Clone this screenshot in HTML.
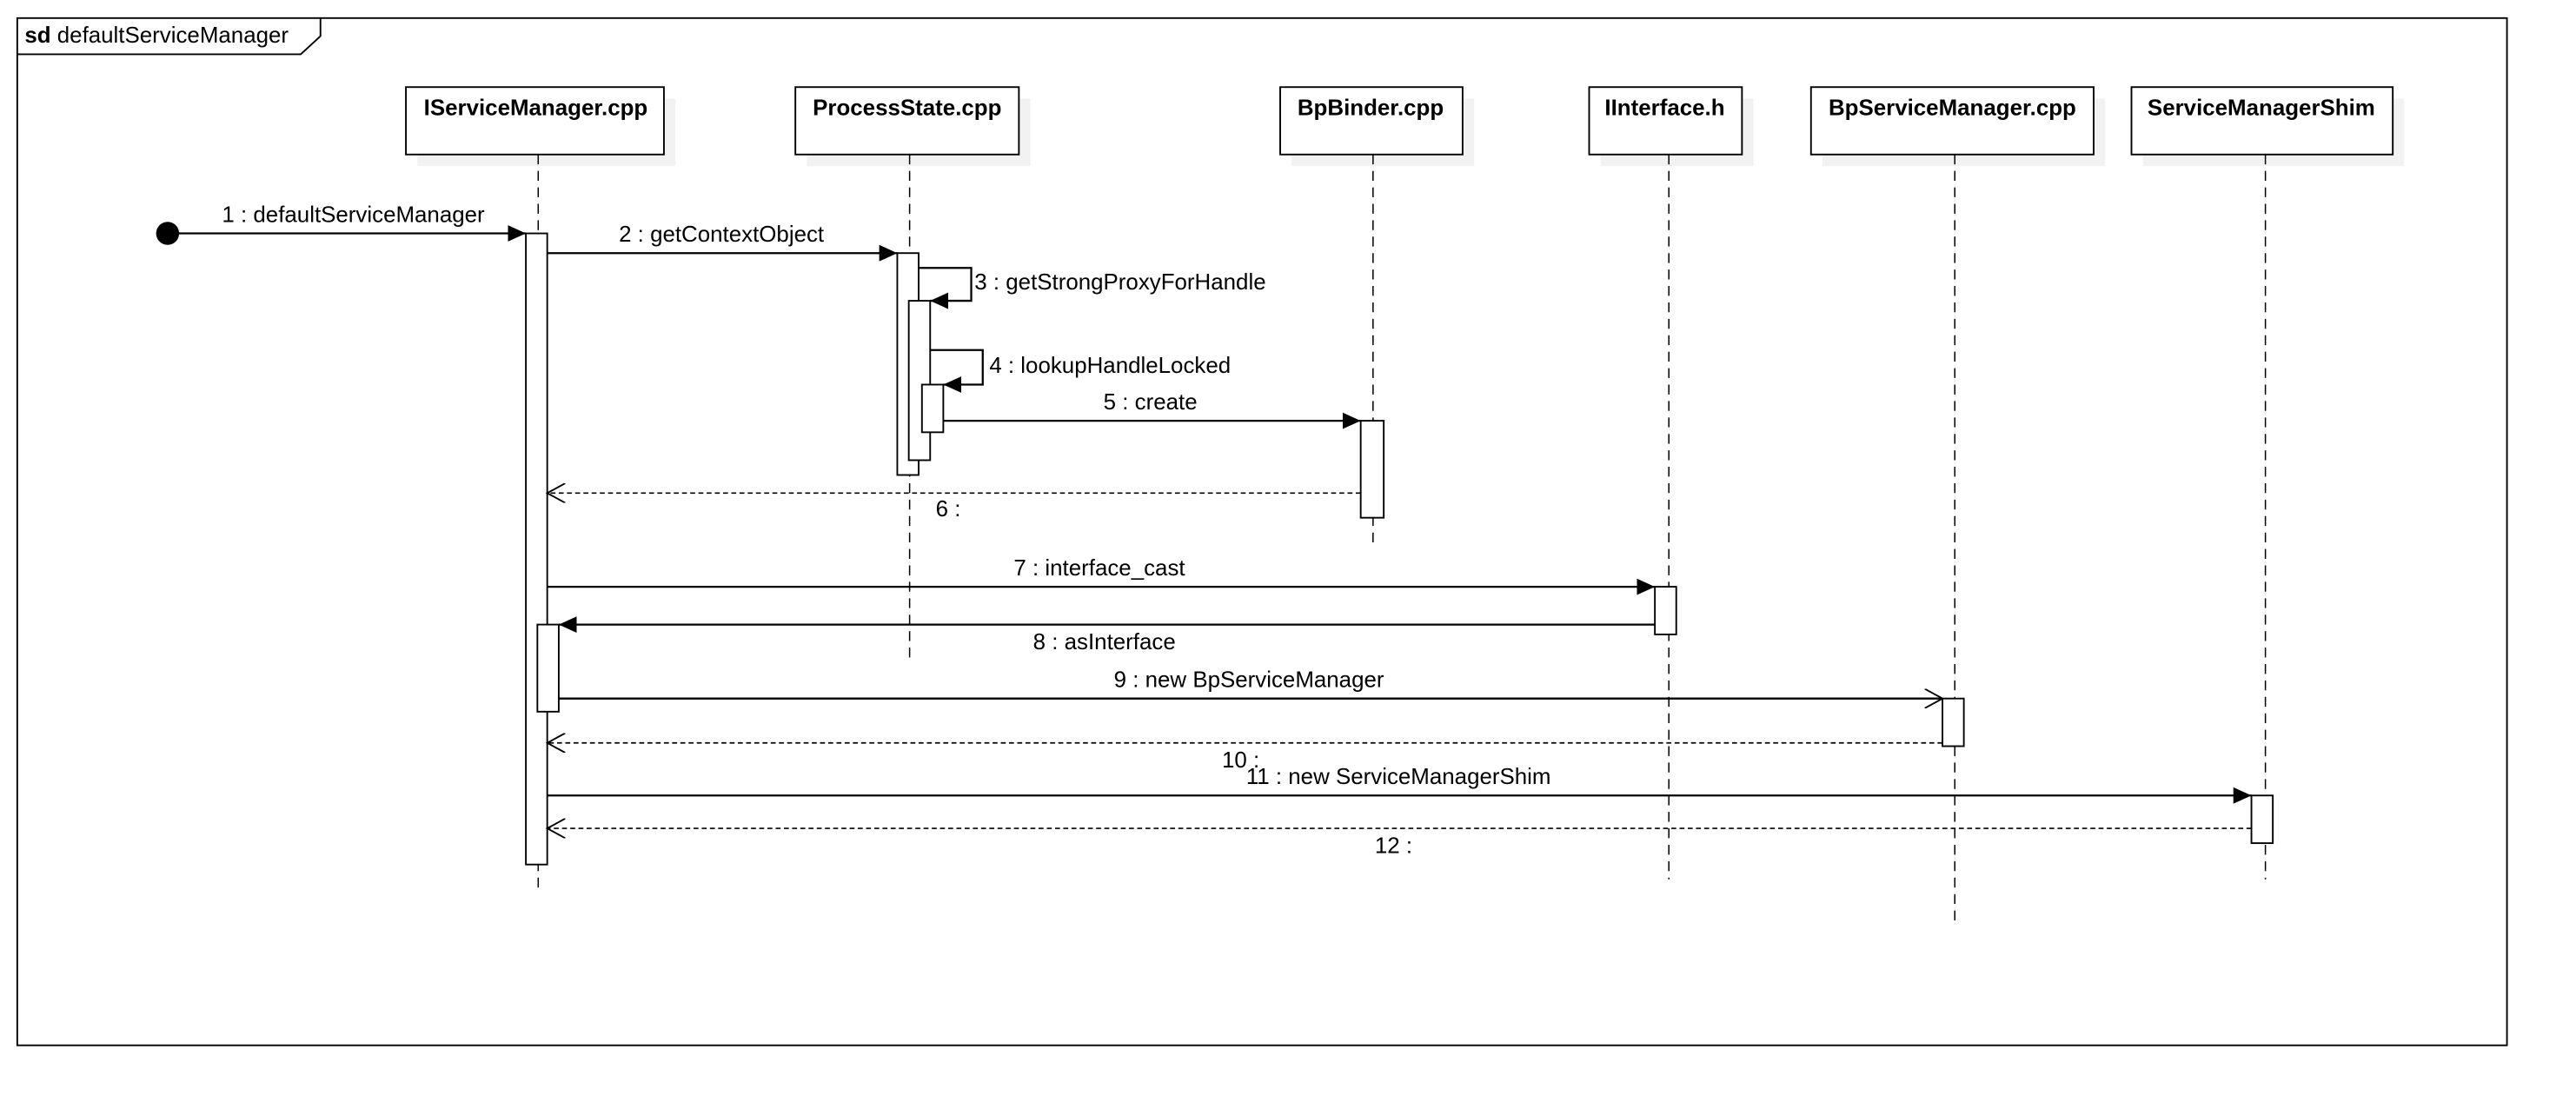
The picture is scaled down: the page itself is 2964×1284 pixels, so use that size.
<!DOCTYPE html>
<html><head><meta charset="utf-8"><style>html,body{margin:0;padding:0;background:#fff}svg{display:block}text{font-family:"Liberation Sans",sans-serif;font-size:13.7px;fill:#000}</style></head><body>
<svg width="2964" height="1284" viewBox="0 0 1567.5 679" preserveAspectRatio="none" xmlns="http://www.w3.org/2000/svg">
<defs>
<marker id="f" markerWidth="12" markerHeight="10" refX="11" refY="5" orient="auto" markerUnits="userSpaceOnUse"><path d="M0,0 L11,5 L0,10 Z" fill="#000"/></marker>
<marker id="o" markerWidth="12" markerHeight="12" refX="11" refY="6" orient="auto" markerUnits="userSpaceOnUse"><path d="M0,0 L11,6 L0,12" fill="none" stroke="#000" stroke-width="1"/></marker>
</defs>
<rect x="10.5" y="11" width="1515" height="625" fill="#fff" stroke="#000" stroke-width="1"/>
<path d="M10.5,33 L183,33 L195,22 L195,11" fill="none" stroke="#000" stroke-width="1"/>
<text x="15" y="26"><tspan font-weight="bold">sd</tspan> defaultServiceManager</text>
<g fill="#f2f2f2">
<rect x="254" y="60" width="157" height="41"/><rect x="491" y="60" width="136" height="41"/><rect x="786" y="60" width="111" height="41"/><rect x="974" y="60" width="93" height="41"/><rect x="1109" y="60" width="172" height="41"/><rect x="1304" y="60" width="159" height="41"/>
</g>
<g fill="#fff" stroke="#000" stroke-width="1">
<rect x="247" y="53" width="157" height="41"/><rect x="484" y="53" width="136" height="41"/><rect x="779" y="53" width="111" height="41"/><rect x="967" y="53" width="93" height="41"/><rect x="1102" y="53" width="172" height="41"/><rect x="1297" y="53" width="159" height="41"/>
</g>
<g font-weight="bold" text-anchor="middle">
<text x="326" y="70" font-weight="bold">IServiceManager.cpp</text><text x="552" y="70" font-weight="bold">ProcessState.cpp</text><text x="834" y="70" font-weight="bold">BpBinder.cpp</text><text x="1013" y="70" font-weight="bold">IInterface.h</text><text x="1188" y="70" font-weight="bold">BpServiceManager.cpp</text><text x="1376" y="70" font-weight="bold">ServiceManagerShim</text>
</g>
<g stroke="#000" stroke-width="0.8" stroke-dasharray="6,4">
<line x1="327.5" y1="94" x2="327.5" y2="540"/><line x1="553.5" y1="94" x2="553.5" y2="403"/><line x1="835.5" y1="94" x2="835.5" y2="331"/><line x1="1015.5" y1="94" x2="1015.5" y2="535"/><line x1="1189.5" y1="94" x2="1189.5" y2="560"/><line x1="1378.5" y1="94" x2="1378.5" y2="535"/>
</g>
<g fill="#fff" stroke="#000" stroke-width="1">
<rect x="320" y="142" width="13" height="384"/><rect x="327" y="380" width="13" height="53"/>
<rect x="546" y="154" width="13" height="135"/><rect x="553" y="183" width="13" height="97"/><rect x="561" y="234" width="13" height="29"/>
<rect x="828" y="256" width="14" height="59"/><rect x="1007" y="357" width="13" height="29"/><rect x="1182" y="425" width="13" height="29"/><rect x="1370" y="484" width="13" height="29"/>
</g>
<circle cx="102" cy="142" r="7" fill="#000"/>
<g stroke="#000" stroke-width="1.2" fill="none">
<line x1="102" y1="142" x2="320" y2="142" marker-end="url(#f)"/>
<line x1="333" y1="154" x2="546" y2="154" marker-end="url(#f)"/>
<path d="M559,163 L591,163 L591,183 L566,183" marker-end="url(#f)"/>
<path d="M566,213 L598,213 L598,234 L574,234" marker-end="url(#f)"/>
<line x1="574" y1="256" x2="828" y2="256" marker-end="url(#f)"/>
<line x1="333" y1="357" x2="1007" y2="357" marker-end="url(#f)"/>
<line x1="1007" y1="380" x2="340" y2="380" marker-end="url(#f)"/>
<line x1="340" y1="425" x2="1182" y2="425" marker-end="url(#o)"/>
<line x1="333" y1="484" x2="1370" y2="484" marker-end="url(#f)"/>
</g>
<g stroke="#000" stroke-width="0.9" fill="none" stroke-dasharray="3,2">
<line x1="828" y1="300" x2="333" y2="300" marker-end="url(#o)"/>
<line x1="1182" y1="452" x2="333" y2="452" marker-end="url(#o)"/>
<line x1="1370" y1="504" x2="333" y2="504" marker-end="url(#o)"/>
</g>
<text x="215" y="135" text-anchor="middle">1 : defaultServiceManager</text>
<text x="439" y="147" text-anchor="middle">2 : getContextObject</text>
<text x="593" y="176">3 : getStrongProxyForHandle</text>
<text x="602" y="227">4 : lookupHandleLocked</text>
<text x="700" y="249" text-anchor="middle">5 : create</text>
<text x="577" y="314" text-anchor="middle">6 :</text>
<text x="669" y="350" text-anchor="middle">7 : interface_cast</text>
<text x="672" y="395" text-anchor="middle">8 : asInterface</text>
<text x="760" y="418" text-anchor="middle">9 : new BpServiceManager</text>
<text x="755" y="467" text-anchor="middle">10 :</text>
<text x="851" y="477" text-anchor="middle">11 : new ServiceManagerShim</text>
<text x="848" y="519" text-anchor="middle">12 :</text>
</svg>
</body></html>
